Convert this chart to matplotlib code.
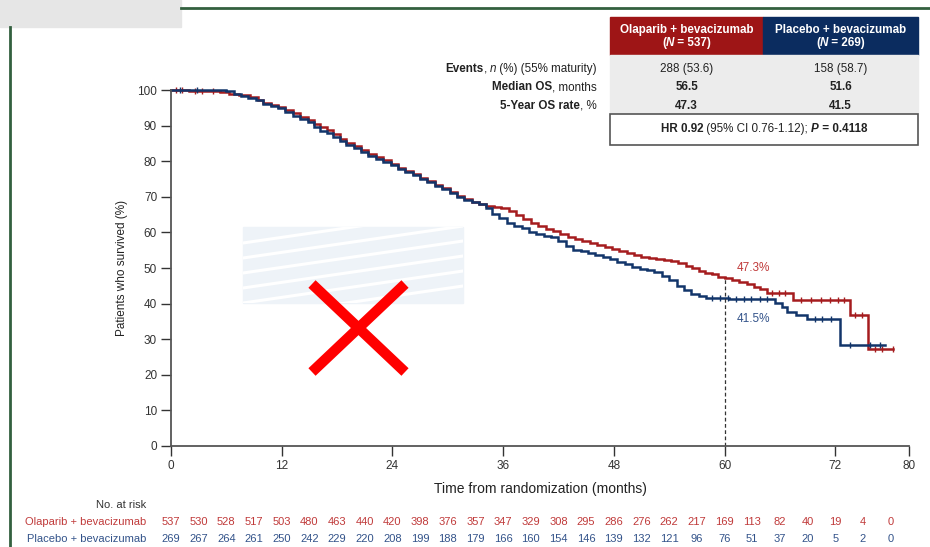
import matplotlib
matplotlib.use('Agg')
import matplotlib.pyplot as plt
from matplotlib.patches import Rectangle
from matplotlib.lines import Line2D
import numpy as np

plt.rcParams['font.family'] = ['Liberation Sans', 'DejaVu Sans']

W, H = 930, 547

# KM curves: step times (months) and % surviving
ola_t = [0, 2.0, 5.3, 6.3, 7.4, 8.6, 9.4, 10.0, 10.8, 11.6, 12.4, 13.2, 14.0, 14.8,
         15.5, 16.2, 16.9, 17.6, 18.3, 19.0, 19.8, 20.6, 21.4, 22.2, 23.0, 23.8,
         24.6, 25.4, 26.2, 27.0, 27.8, 28.6, 29.4, 30.2, 31.0, 31.8, 32.6, 33.4,
         34.2, 35.0, 35.8, 36.6, 37.4, 38.2, 39.0, 39.8, 40.6, 41.4, 42.2, 43.0,
         43.8, 44.6, 45.4, 46.2, 47.0, 47.8, 48.6, 49.4, 50.2, 51.0, 51.8, 52.6,
         53.4, 54.2, 55.0, 55.8, 56.5, 57.2, 57.9, 58.6, 59.3, 60.0, 60.8, 61.6,
         62.4, 63.2, 63.9, 64.6, 67.4, 73.6, 75.6]
ola_s = [100, 99.6, 99.3, 98.9, 98.5, 98.0, 97.3, 96.3, 95.8, 95.2, 94.3, 93.4, 92.5, 91.6,
         90.4, 89.6, 88.8, 87.6, 86.2, 85.2, 84.2, 83.2, 82.1, 81.2, 80.3, 79.3,
         78.2, 77.3, 76.3, 75.3, 74.5, 73.4, 72.4, 71.3, 70.2, 69.3, 68.6, 68.0,
         67.5, 67.2, 66.8, 66.0, 64.8, 63.7, 62.7, 61.8, 61.0, 60.4, 59.5, 58.8,
         58.2, 57.6, 57.0, 56.5, 55.9, 55.3, 54.8, 54.2, 53.6, 53.2, 52.9, 52.6,
         52.3, 52.0, 51.3, 50.6, 49.9, 49.2, 48.6, 48.2, 47.6, 47.2, 46.7, 46.1,
         45.4, 44.8, 44.0, 42.9, 41.0, 36.8, 27.2]
ola_end = 78.3

pla_t = [0, 6.0, 6.8, 7.6, 8.4, 9.2, 10.0, 10.8, 11.6, 12.4, 13.2, 14.0, 14.8, 15.5,
         16.2, 16.9, 17.6, 18.3, 19.0, 19.8, 20.6, 21.4, 22.2, 23.0, 23.8, 24.6,
         25.4, 26.2, 27.0, 27.8, 28.6, 29.4, 30.2, 31.0, 31.8, 32.6, 33.4, 34.2,
         34.8, 35.6, 36.4, 37.2, 38.0, 38.8, 39.6, 40.4, 41.2, 42.0, 42.8, 43.6,
         44.4, 45.2, 46.0, 46.8, 47.6, 48.4, 49.2, 50.0, 50.8, 51.6, 52.4, 53.2,
         54.0, 54.8, 55.6, 56.4, 57.2, 58.0, 60.5, 65.5, 66.2, 66.8, 67.8, 68.9, 72.5]
pla_s = [100, 99.6, 99.0, 98.4, 97.8, 97.2, 96.0, 95.4, 94.9, 93.9, 92.8, 91.9, 90.9, 89.6,
         88.6, 87.8, 86.7, 85.6, 84.6, 83.8, 82.7, 81.6, 80.7, 79.8, 78.9, 77.9,
         76.9, 76.0, 75.0, 74.1, 73.1, 72.1, 71.0, 70.0, 69.1, 68.4, 67.9, 66.8,
         65.3, 64.0, 62.6, 61.9, 61.1, 60.2, 59.5, 59.1, 58.7, 57.6, 56.2, 55.0,
         54.7, 54.2, 53.6, 53.0, 52.4, 51.7, 51.0, 50.4, 49.8, 49.3, 48.8, 47.8,
         46.5, 45.0, 43.8, 42.7, 42.0, 41.6, 41.3, 40.1, 39.0, 37.6, 36.8, 35.6, 28.4]
pla_end = 77.4

# censoring ticks (months)
ola_cens = [0.5, 1.2, 2.6, 3.4, 4.5, 65.2, 65.9, 66.6, 68.3, 69.4, 70.5, 71.4, 72.3,
            73.0, 74.2, 74.9, 76.3, 77.1, 78.3]
pla_cens = [1.0, 2.8, 58.6, 59.5, 60.4, 61.3, 62.1, 62.9, 63.8, 64.6, 69.8, 70.6,
            71.5, 73.6, 75.8, 76.9]

# numbers at risk
risk_times = list(range(0, 79, 3))
ola_risk = [537, 530, 528, 517, 503, 480, 463, 440, 420, 398, 376, 357, 347, 329,
            308, 295, 286, 276, 262, 217, 169, 113, 82, 40, 19, 4, 0]
pla_risk = [269, 267, 264, 261, 250, 242, 229, 220, 208, 199, 188, 179, 166, 160,
            154, 146, 139, 132, 121, 96, 76, 51, 37, 20, 5, 2, 0]

arms = ['Olaparib + bevacizumab', 'Placebo + bevacizumab']
arm_n = [537, 269]
events = ['288 (53.6)', '158 (58.7)']
median_os = ['56.5', '51.6']
rate_5y = ['47.3', '41.5']
landmark = 60
x_ticks = [0, 12, 24, 36, 48, 60, 72, 80]

RED = '#a51c1e'
BLUE = '#12356a'
RED_TXT = '#c03a3a'
BLUE_TXT = '#33538a'


def surv_at(ts, ss, t):
    i = np.searchsorted(ts, t, side='right') - 1
    return ss[max(i, 0)]


def fx(x):
    return x / W


def fy(y):
    return 1 - y / H


fig = plt.figure(figsize=(9.3, 5.47), dpi=100)
ax = fig.add_axes([fx(171), fy(446), 738 / W, 356 / H])

# curves
for ts, ss, end, cens, c in [(ola_t, ola_s, ola_end, ola_cens, RED),
                             (pla_t, pla_s, pla_end, pla_cens, BLUE)]:
    ax.step(ts + [end], ss + [ss[-1]], where='post', color=c, lw=1.8, clip_on=False,
            solid_joinstyle='miter')
    cy = [surv_at(ts, ss, t) for t in cens]
    ax.plot(cens, cy, ls='none', marker='|', ms=4, mew=1.0, color=c, clip_on=False)

# landmark line
ax.plot([landmark, landmark], [0, surv_at(ola_t, ola_s, landmark)], ls=(0, (3, 2)),
        color='#333333', lw=0.9)
ax.text(landmark + 1.3, 50, rate_5y[0] + '%', color=RED_TXT, fontsize=8.5, va='center')
ax.text(landmark + 1.3, 35.7, rate_5y[1] + '%', color=BLUE_TXT, fontsize=8.5, va='center')

ax.set_xlim(0, 80)
ax.set_ylim(0, 100)
ax.set_xticks(x_ticks)
ax.set_yticks(range(0, 101, 10))
for s in ['top', 'right']:
    ax.spines[s].set_visible(False)
for s in ['left', 'bottom']:
    ax.spines[s].set_color('#555555')
    ax.spines[s].set_linewidth(1.3)
ax.tick_params(length=7, width=1.0, color='#333333', labelsize=8.5, labelcolor='#333333',
               pad=3)
ax.set_xlabel('Time from randomization (months)', fontsize=10, color='#222222', labelpad=7)
ax.set_ylabel('Patients who survived (%)', fontsize=8.5, color='#222222', labelpad=7)

# numbers at risk
xt = ax.get_xaxis_transform()
ax.text(-0.033, -0.166, 'No. at risk', transform=ax.transAxes, ha='right', va='center',
        fontsize=8, color='#333333')
for row, (name, vals, c) in enumerate([(arms[0], ola_risk, RED_TXT), (arms[1], pla_risk, BLUE_TXT)]):
    yy = -0.2135 - row * 0.0478
    ax.text(-0.033, yy, name, transform=ax.transAxes, ha='right', va='center',
            fontsize=8, color=c)
    for t, v in zip(risk_times, vals):
        ax.text(t, yy, str(v), transform=xt, ha='center', va='center', fontsize=8,
                color=c, clip_on=False)

renderer = fig.canvas.get_renderer()


def rich(x, y, parts, ha='left', size=8.4, color='#222222'):
    texts = []
    cur = x
    for s, w, st in parts:
        t = fig.text(fx(cur), fy(y), s, fontsize=size, fontweight=w, fontstyle=st,
                     color=color, va='center', ha='left')
        cur += t.get_window_extent(renderer).width
        texts.append(t)
    shift = {'left': 0, 'center': (cur - x) / 2, 'right': cur - x}[ha]
    for t in texts:
        t.set_x(t.get_position()[0] - shift / W)


# summary table
L, M, R = 610, 763, 918
fig.add_artist(Rectangle((fx(L), fy(55)), (M - L) / W, 38 / H, color='#9e1516'))
fig.add_artist(Rectangle((fx(M), fy(55)), (R - M) / W, 38 / H, color='#0b2c5f'))
fig.add_artist(Rectangle((fx(L), fy(113)), (R - L) / W, 58 / H, color='#ececec'))
fig.add_artist(Rectangle((fx(L), fy(145)), (R - L) / W, 31 / H, facecolor='white',
                         edgecolor='#555555', lw=1.2))
centers = [(L + M) / 2, (M + R) / 2]
for cx, name, n in zip(centers, arms, arm_n):
    rich(cx, 30, [(name, 'bold', 'normal')], ha='center', color='white')
    rich(cx, 43, [('(', 'bold', 'normal'), ('N', 'bold', 'italic'),
                  (' = %d)' % n, 'bold', 'normal')], ha='center', color='white')

rich(597, 69, [('Events', 'bold', 'normal'), (', ', 'normal', 'normal'),
               ('n', 'normal', 'italic'), (' (%) (55% maturity)', 'normal', 'normal')],
     ha='right')
rich(597, 87, [('Median OS', 'bold', 'normal'), (', months', 'normal', 'normal')], ha='right')
rich(597, 106, [('5-Year OS rate', 'bold', 'normal'), (', %', 'normal', 'normal')], ha='right')
for cx, e, m, r in zip(centers, events, median_os, rate_5y):
    rich(cx, 69, [(e, 'normal', 'normal')], ha='center')
    rich(cx, 87, [(m, 'bold', 'normal')], ha='center')
    rich(cx, 106, [(r, 'bold', 'normal')], ha='center')
rich((L + R) / 2, 129, [('HR 0.92', 'bold', 'normal'), (' (95% CI 0.76-1.12); ', 'normal', 'normal'),
                        ('P', 'bold', 'italic'), (' = 0.4118', 'bold', 'normal')], ha='center')

# page decorations
fig.add_artist(Rectangle((0, fy(27)), fx(181), 27 / H, color='#e6e6e6'))
fig.add_artist(Line2D([fx(181), 1], [fy(8), fy(8)], color='#33603f', lw=2))
fig.add_artist(Line2D([fx(9.5), fx(9.5)], [fy(27), 0], color='#33603f', lw=2))

box = Rectangle((fx(243), fy(303)), 220 / W, 76 / H, color='#eef3f8')
fig.add_artist(box)
for y0 in [243, 258, 273, 288, 303, 318]:
    ln = Line2D([fx(243), fx(463)], [fy(y0), fy(y0 - 32)], color='white', lw=2.2)
    ln.set_clip_path(box)
    fig.add_artist(ln)

fig.add_artist(Line2D([fx(312), fx(405)], [fy(284), fy(372)], color='#ff0000', lw=7.5,
                      solid_capstyle='butt'))
fig.add_artist(Line2D([fx(405), fx(312)], [fy(284), fy(372)], color='#ff0000', lw=7.5,
                      solid_capstyle='butt'))

fig.savefig('out.png', dpi=100)
